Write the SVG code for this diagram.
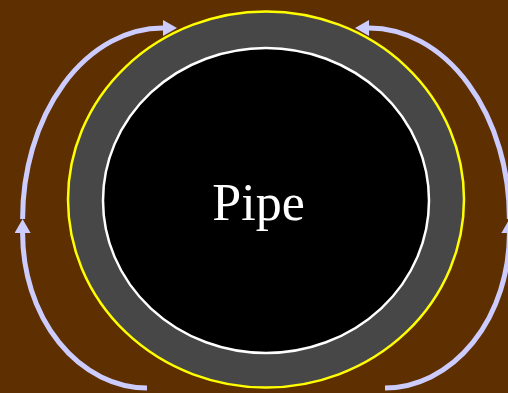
<svg xmlns="http://www.w3.org/2000/svg" width="508" height="393" viewBox="0 0 508 393">
  <defs>
    <style>
      .flow { fill: none; stroke: #ccccff; stroke-width: 5; stroke-linecap: butt; }
    </style>
    <marker id="arrow" viewBox="0 -8 14 16" refX="0" refY="0" markerWidth="14" markerHeight="16" markerUnits="userSpaceOnUse" orient="auto">
      <path d="M0,-8 L14,0 L0,8 Z" fill="#ccccff"/>
    </marker>
  </defs>
  <rect x="0" y="0" width="508" height="393" fill="#5e2f00"/>
  <g id="pipe">
    <ellipse cx="266" cy="199.5" rx="198" ry="188" fill="#474747" stroke="#ffff00" stroke-width="2.5"/>
    <ellipse cx="266" cy="200.5" rx="163" ry="152.5" fill="#000000" stroke="#ffffff" stroke-width="2.5"/>
    <text x="258.5" y="220" font-family="'Liberation Serif', 'DejaVu Serif', serif" font-size="52" fill="#ffffff" text-anchor="middle">Pipe</text>
  </g>
  <g id="connectors">
    <path class="flow" d="M147,388 A125,155 0 0 1 22.6,233" marker-end="url(#arrow)"/>
    <path class="flow" d="M22.6,219 A140.4,191 0 0 1 163,28" marker-end="url(#arrow)"/>
    <path class="flow" d="M385,388 A125,155 0 0 0 509.4,233" marker-end="url(#arrow)"/>
    <path class="flow" d="M509.4,219 A140.4,191 0 0 0 369,28" marker-end="url(#arrow)"/>
  </g>
</svg>
